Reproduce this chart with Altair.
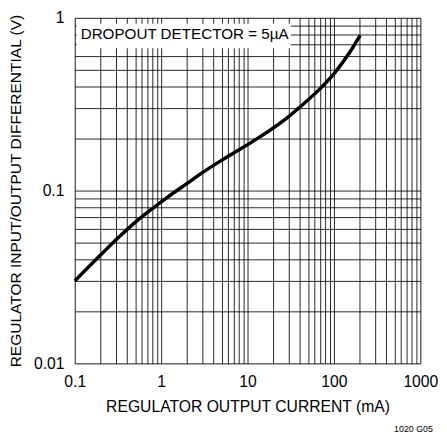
import altair as alt
import pandas as pd

# ---- data ----
current_ma = [0.1, 0.2, 0.32, 0.5, 0.8, 1.2, 2.0, 3.0, 5.6, 11.4, 27.7, 42, 66, 102, 155, 200]
diff_v = [0.030, 0.0425, 0.0535, 0.0655, 0.079, 0.092, 0.11, 0.127, 0.155, 0.192, 0.26, 0.31,
          0.38, 0.48, 0.64, 0.79]

x_grid = [0.1, 0.2, 0.3, 0.4, 0.5, 0.6, 0.7, 0.8, 0.9,
          1, 2, 3, 4, 5, 6, 7, 8, 9,
          10, 20, 30, 40, 50, 60, 70, 80, 90,
          100, 200, 300, 400, 500, 600, 700, 800, 900, 1000]
y_grid = [0.01, 0.02, 0.03, 0.04, 0.05, 0.06, 0.07, 0.08, 0.09,
          0.1, 0.2, 0.3, 0.4, 0.5, 0.6, 0.7, 0.8, 0.9, 1]
x_labels = [0.1, 1, 10, 100, 1000]
y_labels = [0.01, 0.1, 1]

box_text = ["DROPOUT DETECTOR = 5µA"]
note_text = ["1020 G05"]

FONT = "Liberation Sans, Arial, sans-serif"

df = pd.DataFrame({"current": current_ma, "diff": diff_v})


def lab_expr(vals):
    cond = " || ".join(f"datum.value == {v}" for v in vals)
    return f"({cond}) ? toString(datum.value) : ''"


x_enc = alt.X(
    "current:Q",
    scale=alt.Scale(type="log", domain=[0.1, 1000]),
    axis=alt.Axis(
        values=x_grid, labelExpr=lab_expr(x_labels), title="REGULATOR OUTPUT CURRENT (mA)",
        ticks=False, domain=False, grid=True, gridColor="black", gridWidth=1, gridOpacity=0.85,
        labelFont=FONT, labelFontSize=16, labelColor="black", labelPadding=11, labelFlush=False,
        titleFont=FONT, titleFontSize=16, titleColor="black", titleFontWeight="normal",
        titlePadding=9, labelOverlap=False,
    ),
)
y_enc = alt.Y(
    "diff:Q",
    scale=alt.Scale(type="log", domain=[0.01, 1]),
    axis=alt.Axis(
        values=y_grid, labelExpr=lab_expr(y_labels),
        title="REGULATOR INPUT/OUTPUT DIFFERENTIAL (V)",
        ticks=False, domain=False, grid=True, gridColor="black", gridWidth=1, gridOpacity=0.85,
        labelFont=FONT, labelFontSize=16, labelColor="black", labelPadding=11,
        titleFont=FONT, titleFontSize=15.8, titleColor="black", titleFontWeight="normal",
        titlePadding=10, labelOverlap=False,
    ),
)

curve = alt.Chart(df).mark_line(color="black", strokeWidth=3.5, interpolate="monotone").encode(
    x=x_enc, y=y_enc
)

box = alt.Chart(pd.DataFrame({"t": box_text})).mark_rect(color="white").encode(
    x=alt.value(2), x2=alt.value(220), y=alt.value(6), y2=alt.value(31)
)
box_label = alt.Chart(pd.DataFrame({"t": box_text})).mark_text(
    font=FONT, fontSize=15.5, color="black", align="left", baseline="middle"
).encode(x=alt.value(6), y=alt.value(17), text="t:N")

note = alt.Chart(pd.DataFrame({"t": note_text})).mark_text(
    font=FONT, fontSize=9, color="black", align="center", baseline="middle"
).encode(x=alt.value(345), y=alt.value(419), text="t:N")

chart = alt.layer(curve, box, box_label, note).properties(
    width=352, height=352,
    autosize=alt.AutoSizeParams(type="none"),
    padding={"left": 68, "top": 6, "right": 19, "bottom": 70},
).configure_view(stroke="black", strokeWidth=2).configure(background="white")

chart.save("out.html", embed_options={"renderer": "svg", "actions": False})
